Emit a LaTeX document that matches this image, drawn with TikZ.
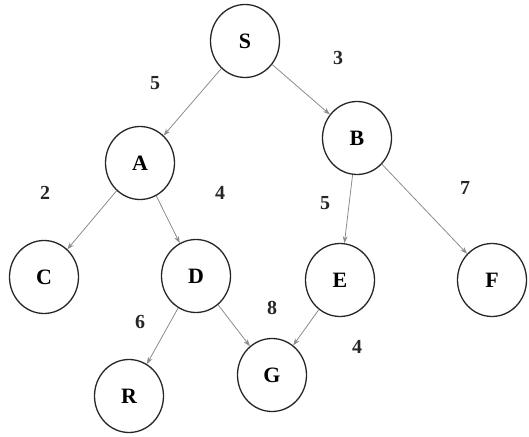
\documentclass[tikz,border=0pt]{standalone}
\usepackage{fontspec}
\setmainfont{Liberation Serif}
\usetikzlibrary{arrows.meta,shapes.geometric}
\begin{document}
\begin{tikzpicture}[x=1bp,y=-1bp,
  vert/.style={ellipse,draw=black!85,line width=1.3bp,minimum width=69bp,minimum height=73bp,inner sep=0pt,font=\fontsize{22}{22}\selectfont\bfseries},
  edge/.style={draw=black!45,line width=0.8bp,-{Stealth[length=7bp,width=5bp]}},
  wt/.style={font=\fontsize{20}{20}\selectfont\bfseries,text=black!85}]
\useasboundingbox (0,0) rectangle (529,437);
\node[vert] (S) at (245,41) {S};
\node[vert] (A) at (140,163) {A};
\node[vert] (B) at (357,138) {B};
\node[vert] (C) at (44,277) {C};
\node[vert] (D) at (196,276) {D};
\node[vert] (E) at (340,280) {E};
\node[vert] (F) at (492,280) {F};
\node[vert] (G) at (272,375) {G};
\node[vert] (R) at (129,396) {R};
\draw[edge] (S) -- (A);
\draw[edge] (S) -- (B);
\draw[edge] (A) -- (C);
\draw[edge] (A) -- (D);
\draw[edge] (B) -- (E);
\draw[edge] (B) -- (F);
\draw[edge] (D) -- (R);
\draw[edge] (D) -- (G);
\draw[edge] (E) -- (G);
\node[wt] (w1) at (155,83) {5};
\node[wt] (w2) at (338,58) {3};
\node[wt] (w3) at (45,193) {2};
\node[wt] (w4) at (220,193) {4};
\node[wt] (w5) at (325,203) {5};
\node[wt] (w6) at (465,188) {7};
\node[wt] (w7) at (272,308) {8};
\node[wt] (w8) at (140,322) {6};
\node[wt] (w9) at (357,347) {4};
\end{tikzpicture}
\end{document}
